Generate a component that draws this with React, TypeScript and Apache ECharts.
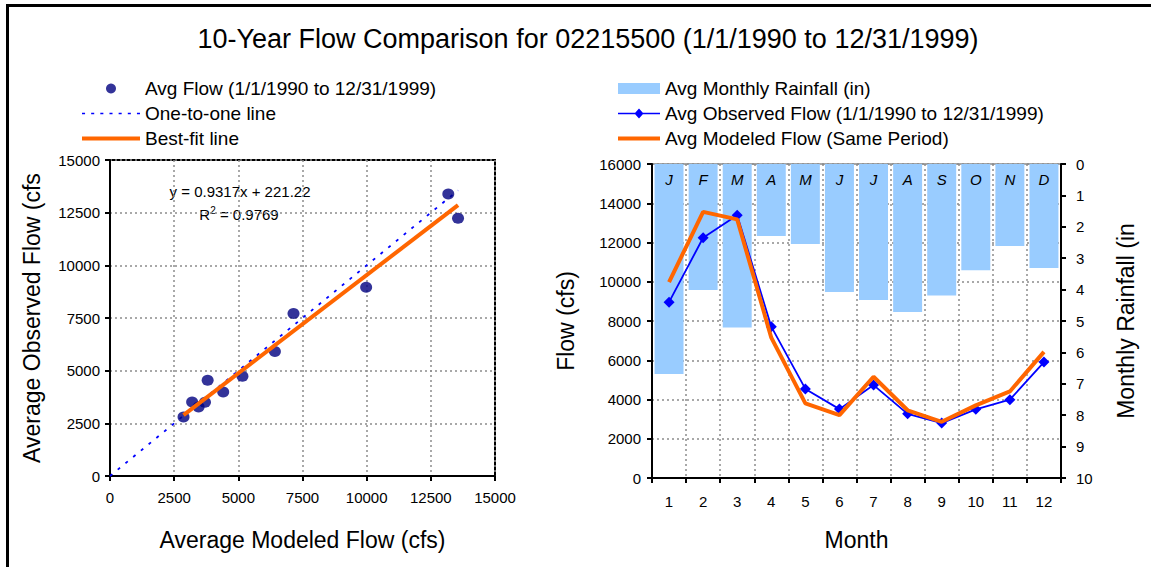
import React, { useEffect, useRef } from "react";
import * as echarts from "echarts";

// Monthly averages, 1/1/1990 to 12/31/1999
const months = ["1", "2", "3", "4", "5", "6", "7", "8", "9", "10", "11", "12"];
const monthInitials = ["J", "F", "M", "A", "M", "J", "J", "A", "S", "O", "N", "D"];
const rainfallIn = [6.69, 4.01, 5.21, 2.29, 2.55, 4.08, 4.33, 4.71, 4.19, 3.38, 2.61, 3.31];
const observedFlow = [8960, 12240, 13390, 7710, 4540, 3510, 4735, 3270, 2800, 3500, 3990, 5905];
const modeledFlow = [9980, 13560, 13180, 7150, 3805, 3200, 5160, 3450, 2865, 3700, 4410, 6425];

// Linear regression of observed on modeled flow
const fitSlope = 0.9317;
const fitIntercept = 221.22;
const fitR2 = 0.9769;

const FONT = "'Liberation Sans', Arial, Helvetica, sans-serif";

// Legend swatches drawn as filled paths (width x height boxes)
function dashedIcon(width: number, dash: number, period: number, thick: number) {
  let d = "";
  for (let x = 0; x + dash <= width; x += period) d += `M${x},0h${dash}v${thick}h-${dash}z`;
  return "path://" + d;
}
function solidIcon(width: number, thick: number) {
  return `path://M0,0h${width}v${thick}h-${width}z`;
}
function lineDiamondIcon(width: number, h: number) {
  const c = width / 2;
  const m = h / 2;
  return `path://M0,${m - 0.8}h${width}v1.6h-${width}z M${c},0L${c + 4.5},${m}L${c},${h}L${c - 4.5},${m}z`;
}

export default function App() {
  const ref = useRef<HTMLDivElement>(null);

  useEffect(() => {
    if (!ref.current) return;
    const chart = echarts.init(ref.current, undefined, { renderer: "svg" });

    const scatterData = modeledFlow.map((m, i) => [m, observedFlow[i]]);
    const minX = Math.min(...modeledFlow);
    const maxX = Math.max(...modeledFlow);
    const fitLine = [
      [minX, fitSlope * minX + fitIntercept],
      [maxX, fitSlope * maxX + fitIntercept],
    ];
    const oneToOne = [
      [0, 0],
      [maxX, maxX],
    ];

    const plain = (v: number) => String(v);
    const tickLabel = { color: "#000", fontSize: 15, fontFamily: FONT, formatter: plain };
    const axisLine = { show: true, lineStyle: { color: "#000", width: 2 } };
    const axisTick = { show: true, length: 5, lineStyle: { color: "#000", width: 2 } };
    const dotted = { show: true, lineStyle: { color: "#8c8c8c", width: 1.5, type: [2, 3] as any } };
    const nameStyle = { color: "#000", fontSize: 23, fontFamily: FONT };
    const legendText = { color: "#000", fontSize: 19, fontFamily: FONT };

    chart.setOption({
      animation: false,
      backgroundColor: "#fff",
      textStyle: { fontFamily: FONT },
      title: {
        text: "10-Year Flow Comparison for 02215500 (1/1/1990 to 12/31/1999)",
        left: 583,
        top: 20,
        textAlign: "center",
        textStyle: { color: "#000", fontSize: 27, fontWeight: "normal", fontFamily: FONT },
      },
      legend: [
        {
          orient: "vertical",
          left: 82,
          top: 79,
          padding: 0,
          itemWidth: 58,
          itemHeight: 10,
          itemGap: 6,
          textStyle: legendText,
          data: [
            { name: "Avg Flow (1/1/1990 to 12/31/1999)", icon: "circle" },
            { name: "One-to-one line", icon: dashedIcon(58, 3, 9, 1.6) },
            { name: "Best-fit line", icon: solidIcon(58, 4) },
          ],
        },
        {
          orient: "vertical",
          left: 618,
          top: 79,
          padding: 0,
          itemWidth: 42,
          itemHeight: 11,
          itemGap: 6,
          textStyle: legendText,
          data: [
            { name: "Avg Monthly Rainfall (in)", icon: "rect" },
            { name: "Avg Observed Flow (1/1/1990 to 12/31/1999)", icon: lineDiamondIcon(42, 10) },
            { name: "Avg Modeled Flow (Same Period)", icon: solidIcon(42, 4) },
          ],
        },
      ],
      grid: [
        { left: 110, top: 160, width: 385, height: 316, show: true, borderColor: "#000", borderWidth: 2 },
        { left: 652, top: 164, width: 409, height: 314, show: true, borderColor: "#888", borderWidth: 1.5 },
      ],
      xAxis: [
        {
          type: "value",
          gridIndex: 0,
          min: 0,
          max: 15000,
          interval: 2500,
          name: "Average Modeled Flow (cfs)",
          nameLocation: "middle",
          nameGap: 52,
          nameTextStyle: nameStyle,
          axisLine,
          axisTick,
          axisLabel: { ...tickLabel, margin: 14 },
          splitLine: dotted,
        },
        {
          type: "category",
          gridIndex: 1,
          data: months,
          boundaryGap: true,
          name: "Month",
          nameLocation: "middle",
          nameGap: 50,
          nameTextStyle: nameStyle,
          axisLine,
          axisTick: { ...axisTick, interval: 0 },
          axisLabel: { color: "#000", fontSize: 15, fontFamily: FONT, margin: 16, interval: 0 },
          splitLine: { ...dotted, interval: 0 },
        },
      ],
      yAxis: [
        {
          type: "value",
          gridIndex: 0,
          min: 0,
          max: 15000,
          interval: 2500,
          name: "Average Observed Flow (cfs",
          nameLocation: "middle",
          nameGap: 67,
          nameTextStyle: nameStyle,
          axisLine,
          axisTick,
          axisLabel: { ...tickLabel, margin: 10 },
          splitLine: dotted,
        },
        {
          type: "value",
          gridIndex: 1,
          position: "left",
          min: 0,
          max: 16000,
          interval: 2000,
          name: "Flow (cfs)",
          nameLocation: "middle",
          nameGap: 75,
          nameTextStyle: nameStyle,
          axisLine,
          axisTick,
          axisLabel: { ...tickLabel, margin: 11 },
          splitLine: dotted,
        },
        {
          type: "value",
          gridIndex: 1,
          position: "right",
          inverse: true,
          min: 0,
          max: 10,
          interval: 1,
          name: "Monthly Rainfall (in",
          nameLocation: "middle",
          nameGap: 53,
          nameTextStyle: nameStyle,
          axisLine,
          axisTick,
          axisLabel: { ...tickLabel, margin: 15 },
          splitLine: { show: false },
        },
      ],
      graphic: [
        {
          type: "polyline",
          shape: { points: [[7.5, 567], [7.5, 5.5], [1151, 5.5]] },
          style: { stroke: "#000", lineWidth: 3, fill: "none" },
          z: 10,
        },
        {
          type: "text",
          x: 240,
          y: 184,
          style: {
            text: `y = ${fitSlope}x + ${fitIntercept}`,
            fill: "#000",
            fontSize: 15,
            fontFamily: FONT,
            textAlign: "center",
          },
        },
        {
          type: "text",
          x: 239,
          y: 205,
          style: {
            text: `{r|R}{sup|2}{r| = ${fitR2}}`,
            textAlign: "center",
            rich: {
              r: { fontSize: 15, fontFamily: FONT, color: "#000" },
              sup: { fontSize: 10, fontFamily: FONT, color: "#000", verticalAlign: "top", padding: [0, 0, 8, 0] },
            },
          },
        },
      ],
      series: [
        {
          name: "Avg Flow (1/1/1990 to 12/31/1999)",
          type: "scatter",
          xAxisIndex: 0,
          yAxisIndex: 0,
          data: scatterData,
          symbol: "circle",
          symbolSize: [12, 11],
          itemStyle: { color: "#000080" },
          z: 4,
        },
        {
          name: "One-to-one line",
          type: "line",
          xAxisIndex: 0,
          yAxisIndex: 0,
          data: oneToOne,
          symbol: "none",
          lineStyle: { color: "#0000ff", width: 1.8, type: [3, 7] },
          itemStyle: { color: "#0000ff" },
          z: 3,
        },
        {
          name: "Best-fit line",
          type: "line",
          xAxisIndex: 0,
          yAxisIndex: 0,
          data: fitLine,
          symbol: "none",
          lineStyle: { color: "#ff6600", width: 4 },
          itemStyle: { color: "#ff6600" },
          z: 5,
        },
        {
          name: "Avg Monthly Rainfall (in)",
          type: "bar",
          xAxisIndex: 1,
          yAxisIndex: 2,
          data: rainfallIn,
          barCategoryGap: "15%",
          itemStyle: { color: "#99ccff" },
          label: {
            show: true,
            position: "insideTop",
            distance: 8,
            formatter: (p: any) => monthInitials[p.dataIndex],
            color: "#000",
            fontSize: 15,
            fontStyle: "italic",
            fontFamily: FONT,
          },
          z: 1,
        },
        {
          name: "Avg Observed Flow (1/1/1990 to 12/31/1999)",
          type: "line",
          xAxisIndex: 1,
          yAxisIndex: 1,
          data: observedFlow,
          symbol: "diamond",
          symbolSize: 11,
          lineStyle: { color: "#0000ff", width: 1.8 },
          itemStyle: { color: "#0000ff" },
          z: 3,
        },
        {
          name: "Avg Modeled Flow (Same Period)",
          type: "line",
          xAxisIndex: 1,
          yAxisIndex: 1,
          data: modeledFlow,
          symbol: "none",
          lineStyle: { color: "#ff6600", width: 4 },
          itemStyle: { color: "#ff6600" },
          z: 4,
        },
      ],
    });

    return () => chart.dispose();
  }, []);

  return (
    <div
      ref={ref}
      style={{ position: "fixed", left: 0, top: 0, width: 1151, height: 567, background: "#fff" }}
    />
  );
}
